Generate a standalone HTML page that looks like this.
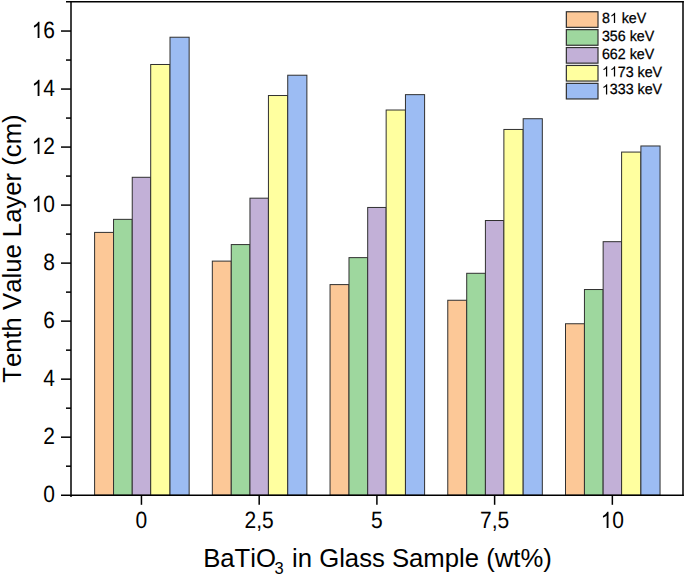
<!DOCTYPE html>
<html><head><meta charset="utf-8"><title>chart</title>
<style>
html,body{margin:0;padding:0;background:#fff;}
body{width:685px;height:575px;overflow:hidden;}
svg{display:block;}
text{font-family:"Liberation Sans",sans-serif;fill:#000;font-kerning:none;white-space:pre;}
</style></head><body>
<svg width="685" height="575" viewBox="0 0 685 575">
<rect x="0" y="0" width="685" height="575" fill="#fff"/>
<g stroke="#303030" stroke-width="1">
<rect x="94.60" y="232.40" width="18.94" height="262.80" fill="#FCC897"/>
<rect x="113.54" y="219.35" width="18.70" height="275.85" fill="#9ED79E"/>
<rect x="132.24" y="177.30" width="18.46" height="317.90" fill="#C2B0D7"/>
<rect x="150.70" y="64.49" width="19.30" height="430.71" fill="#FFFF9F"/>
<rect x="170.00" y="37.23" width="19.15" height="457.97" fill="#9CBCF3"/>
<rect x="212.32" y="261.11" width="18.94" height="234.09" fill="#FCC897"/>
<rect x="231.26" y="244.58" width="18.70" height="250.62" fill="#9ED79E"/>
<rect x="249.96" y="198.18" width="18.46" height="297.02" fill="#C2B0D7"/>
<rect x="268.43" y="95.52" width="19.30" height="399.68" fill="#FFFF9F"/>
<rect x="287.73" y="75.22" width="19.15" height="419.98" fill="#9CBCF3"/>
<rect x="330.05" y="284.60" width="18.94" height="210.60" fill="#FCC897"/>
<rect x="348.99" y="257.63" width="18.70" height="237.57" fill="#9ED79E"/>
<rect x="367.69" y="207.46" width="18.46" height="287.74" fill="#C2B0D7"/>
<rect x="386.15" y="110.02" width="19.30" height="385.18" fill="#FFFF9F"/>
<rect x="405.45" y="94.65" width="19.15" height="400.55" fill="#9CBCF3"/>
<rect x="447.77" y="300.26" width="18.94" height="194.94" fill="#FCC897"/>
<rect x="466.71" y="273.29" width="18.70" height="221.91" fill="#9ED79E"/>
<rect x="485.41" y="220.51" width="18.46" height="274.69" fill="#C2B0D7"/>
<rect x="503.88" y="129.45" width="19.30" height="365.75" fill="#FFFF9F"/>
<rect x="523.17" y="118.72" width="19.15" height="376.48" fill="#9CBCF3"/>
<rect x="565.50" y="323.75" width="18.94" height="171.45" fill="#FCC897"/>
<rect x="584.44" y="289.53" width="18.70" height="205.67" fill="#9ED79E"/>
<rect x="603.14" y="241.68" width="18.46" height="253.52" fill="#C2B0D7"/>
<rect x="621.60" y="152.07" width="19.30" height="343.13" fill="#FFFF9F"/>
<rect x="640.90" y="145.98" width="19.15" height="349.22" fill="#9CBCF3"/>
</g>
<g stroke="#000" stroke-width="1.5" fill="none" stroke-linecap="butt">
<path d="M71.00 0.95 V497.00"/>
<path d="M683.00 0.95 V495.95"/>
<path d="M66.00 1.70 H683.75"/>
<path d="M61.00 495.20 H683.75"/>
<path d="M66.00 466.19 H71.00"/>
<path d="M61.00 437.18 H71.00"/>
<path d="M66.00 408.17 H71.00"/>
<path d="M61.00 379.16 H71.00"/>
<path d="M66.00 350.15 H71.00"/>
<path d="M61.00 321.14 H71.00"/>
<path d="M66.00 292.13 H71.00"/>
<path d="M61.00 263.12 H71.00"/>
<path d="M66.00 234.11 H71.00"/>
<path d="M61.00 205.10 H71.00"/>
<path d="M66.00 176.09 H71.00"/>
<path d="M61.00 147.08 H71.00"/>
<path d="M66.00 118.07 H71.00"/>
<path d="M61.00 89.06 H71.00"/>
<path d="M66.00 60.05 H71.00"/>
<path d="M61.00 31.04 H71.00"/>
<path d="M141.45 495.20 V504.80"/>
<path d="M259.18 495.20 V504.80"/>
<path d="M376.90 495.20 V504.80"/>
<path d="M494.62 495.20 V504.80"/>
<path d="M612.35 495.20 V504.80"/>
</g>
<g text-rendering="geometricPrecision" fill="#000">
<g transform="translate(55.00 502.09) scale(1 1.1200)"><text x="-11.68" y="0" font-size="21">0</text></g>
<g transform="translate(55.00 444.07) scale(1 1.1200)"><text x="-11.68" y="0" font-size="21">2</text></g>
<g transform="translate(55.00 386.05) scale(1 1.1200)"><text x="-11.68" y="0" font-size="21">4</text></g>
<g transform="translate(55.00 328.03) scale(1 1.1200)"><text x="-11.68" y="0" font-size="21">6</text></g>
<g transform="translate(55.00 270.01) scale(1 1.1200)"><text x="-11.68" y="0" font-size="21">8</text></g>
<g transform="translate(55.00 211.99) scale(1 1.1200)"><path transform="translate(-23.36 0) scale(0.010254 -0.009849)" d="M763 0H583V1147Q518 1085 412.5 1023T223 930V1104Q374 1175 487 1276T647 1472H763Z"/><text x="-11.68" y="0" font-size="21">0</text></g>
<g transform="translate(55.00 153.97) scale(1 1.1200)"><path transform="translate(-23.36 0) scale(0.010254 -0.009849)" d="M763 0H583V1147Q518 1085 412.5 1023T223 930V1104Q374 1175 487 1276T647 1472H763Z"/><text x="-11.68" y="0" font-size="21">2</text></g>
<g transform="translate(55.00 95.95) scale(1 1.1200)"><path transform="translate(-23.36 0) scale(0.010254 -0.009849)" d="M763 0H583V1147Q518 1085 412.5 1023T223 930V1104Q374 1175 487 1276T647 1472H763Z"/><text x="-11.68" y="0" font-size="21">4</text></g>
<g transform="translate(55.00 37.93) scale(1 1.1200)"><path transform="translate(-23.36 0) scale(0.010254 -0.009849)" d="M763 0H583V1147Q518 1085 412.5 1023T223 930V1104Q374 1175 487 1276T647 1472H763Z"/><text x="-11.68" y="0" font-size="21">6</text></g>
</g>
<g text-rendering="geometricPrecision" fill="#000">
<g transform="translate(141.45 528.09) scale(1 1.1200)"><text x="-5.84" y="0" font-size="21">0</text></g>
<g transform="translate(259.18 528.09) scale(1 1.1200)"><text x="-14.60" y="0" font-size="21">2,5</text></g>
<g transform="translate(376.90 528.09) scale(1 1.1200)"><text x="-5.84" y="0" font-size="21">5</text></g>
<g transform="translate(494.62 528.09) scale(1 1.1200)"><text x="-14.60" y="0" font-size="21">7,5</text></g>
<g transform="translate(612.35 528.09) scale(1 1.1200)"><path transform="translate(-11.68 0) scale(0.010254 -0.009849)" d="M763 0H583V1147Q518 1085 412.5 1023T223 930V1104Q374 1175 487 1276T647 1472H763Z"/><text x="0.00" y="0" font-size="21">0</text></g>
</g>
<text x="203.2" y="566.8" font-size="25.7">BaTiO<tspan font-size="16.5" dy="7.2" dx="-1.4">3</tspan><tspan dy="-7.2" dx="1.1"> in Glass Sample (wt%)</tspan></text>
<text transform="translate(20.5 248.6) rotate(-90)" font-size="25.7" text-anchor="middle">Tenth Value Layer (cm)</text>
<g stroke="#303030" stroke-width="1.2">
<rect x="566.35" y="11.75" width="31.65" height="15.6" fill="#FCC897"/>
<rect x="566.35" y="29.65" width="31.65" height="15.6" fill="#9ED79E"/>
<rect x="566.35" y="47.55" width="31.65" height="15.6" fill="#C2B0D7"/>
<rect x="566.35" y="65.45" width="31.65" height="15.6" fill="#FFFF9F"/>
<rect x="566.35" y="83.35" width="31.65" height="15.6" fill="#9CBCF3"/>
</g>
<g text-rendering="geometricPrecision" fill="#000" stroke="#000" stroke-width="0.25">
<g transform="translate(601.90 22.95) scale(1 1.0400)"><text x="0.00" y="0" font-size="14.25">8</text><path transform="translate(7.93 0) scale(0.006958 -0.006683)" d="M763 0H583V1147Q518 1085 412.5 1023T223 930V1104Q374 1175 487 1276T647 1472H763Z"/><text x="15.85" y="0" font-size="14.25"> keV</text></g>
<g transform="translate(601.90 40.83) scale(1 1.0400)"><text x="0.00" y="0" font-size="14.25">356 keV</text></g>
<g transform="translate(601.90 58.70) scale(1 1.0400)"><text x="0.00" y="0" font-size="14.25">662 keV</text></g>
<g transform="translate(601.90 76.58) scale(1 1.0400)"><path transform="translate(0.00 0) scale(0.006958 -0.006683)" d="M763 0H583V1147Q518 1085 412.5 1023T223 930V1104Q374 1175 487 1276T647 1472H763Z"/><path transform="translate(7.93 0) scale(0.006958 -0.006683)" d="M763 0H583V1147Q518 1085 412.5 1023T223 930V1104Q374 1175 487 1276T647 1472H763Z"/><text x="15.85" y="0" font-size="14.25">73 keV</text></g>
<g transform="translate(601.90 94.45) scale(1 1.0400)"><path transform="translate(0.00 0) scale(0.006958 -0.006683)" d="M763 0H583V1147Q518 1085 412.5 1023T223 930V1104Q374 1175 487 1276T647 1472H763Z"/><text x="7.93" y="0" font-size="14.25">333 keV</text></g>
</g>
</svg>
</body></html>
